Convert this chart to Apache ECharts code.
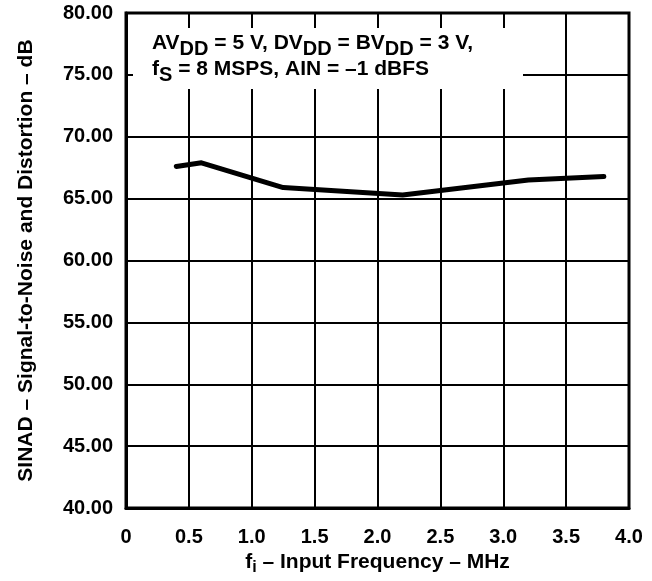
<!DOCTYPE html>
<html>
<head>
<meta charset="utf-8">
<script src="https://cdn.jsdelivr.net/npm/echarts@6/dist/echarts.min.js"></script>
<style>
  html, body { margin: 0; padding: 0; background: #fff; }
  #chart_sinad { width: 652px; height: 581px; }
</style>
</head>
<body>
<div id="chart_sinad"></div>
<script>
// SINAD vs input frequency
const freqMHz = [0.4, 0.6, 1.25, 2.2, 3.2, 3.8];
const sinadDb = [67.6, 67.9, 65.9, 65.3, 66.5, 66.8];
const xTicks = [0, 0.5, 1.0, 1.5, 2.0, 2.5, 3.0, 3.5, 4.0];
const yTicks = [40, 45, 50, 55, 60, 65, 70, 75, 80];

const font = "'Liberation Sans', Arial, sans-serif";

const chart = echarts.init(document.getElementById("chart_sinad"));
const main = { fontSize: 21, fontWeight: "bold", fontFamily: font, color: "#000", verticalAlign: "top" };
const sub = { fontSize: 20, fontWeight: "bold", fontFamily: font, color: "#000", verticalAlign: "bottom", padding: [6, 0, 0, 0] };

let option = {
  backgroundColor: "#fff",
  animation: false,
  grid: {
    left: 126,
    right: 23,
    top: 13,
    bottom: 68,
    show: true,
    borderColor: "#000",
    borderWidth: 3,
    z: 3
  },
  xAxis: {
    type: "value",
    min: xTicks[0],
    max: xTicks[xTicks.length - 1],
    interval: 0.5,
    name: "{t|f}{s|i}{t| – Input Frequency – MHz}",
    nameLocation: "middle",
    nameGap: 39,
    nameTextStyle: {
      rich: {
        t: { fontSize: 21, fontWeight: "bold", fontFamily: font, color: "#000", verticalAlign: "top" },
        s: { fontSize: 16, fontWeight: "bold", fontFamily: font, color: "#000", verticalAlign: "bottom", padding: [8, 0, 0, 0] }
      }
    },
    axisLine: { lineStyle: { color: "#000", width: 3 } },
    axisTick: { show: false },
    axisLabel: {
      margin: 19,
      fontSize: 20,
      fontWeight: "bold",
      fontFamily: font,
      color: "#000",
      formatter: (v) => (v === 0 ? "0" : v.toFixed(1))
    },
    splitLine: { show: true, lineStyle: { color: "#000", width: 2 } }
  },
  yAxis: {
    type: "value",
    min: yTicks[0],
    max: yTicks[yTicks.length - 1],
    interval: 5,
    name: "SINAD – Signal-to-Noise and Distortion – dB",
    nameLocation: "middle",
    nameGap: 89,
    nameTextStyle: { fontSize: 21, fontWeight: "bold", fontFamily: font, color: "#000" },
    axisLine: { lineStyle: { color: "#000", width: 3 } },
    axisTick: { show: false },
    axisLabel: {
      margin: 13,
      fontSize: 20,
      fontWeight: "bold",
      fontFamily: font,
      color: "#000",
      formatter: (v) => v.toFixed(2)
    },
    splitLine: { show: true, lineStyle: { color: "#000", width: 2 } }
  },
  graphic: [
    {
      type: "rect",
      left: 133,
      top: 28,
      shape: { width: 390, height: 61 },
      style: { fill: "#fff" },
      z: 10
    },
    {
      type: "text",
      left: 152,
      top: 33,
      z: 11,
      style: {
        text: "{m|AV}{s|DD}{m| = 5 V, DV}{s|DD}{m| = BV}{s|DD}{m| = 3 V,}\n{m|f}{s|S}{m| = 8 MSPS, AIN = –1 dBFS}",
        rich: { m: main, s: sub }
      }
    }
  ],
  series: [
    {
      type: "line",
      data: freqMHz.map((f, i) => [f, sinadDb[i]]),
      symbol: "none",
      lineStyle: { color: "#000", width: 5, cap: "round", join: "round" },
      z: 5
    }
  ]
};
chart.setOption(option);
</script>
</body>
</html>
